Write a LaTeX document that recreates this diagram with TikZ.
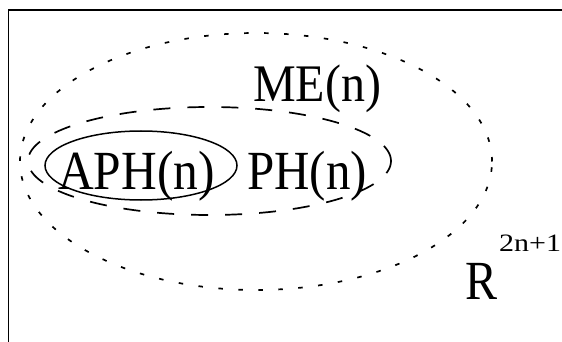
\documentclass[tikz,border=0pt]{standalone}
\usepackage{fontspec}
\setmainfont{Liberation Serif}
\usetikzlibrary{shapes.geometric}
\tikzset{
  big/.style={inner sep=0pt, anchor=base west, font=\fontsize{48}{48}\selectfont},
  supstyle/.style={inner sep=0pt, anchor=base west, font=\fontsize{25}{25}\selectfont},
  region/.style={shape=ellipse, inner sep=0pt, line width=1.7pt},
  dotreg/.style={region, dash pattern=on 4.5pt off 15.5pt},
  dashreg/.style={region, dash pattern=on 17pt off 17pt},
  solidreg/.style={region, line width=1.5pt}
}
\begin{document}
\begin{tikzpicture}[x=1pt,y=-1pt]
\useasboundingbox (0,0) rectangle (562,342);
\clip (0,0) rectangle (562,342);
\draw[line width=1.8pt] (8.5,10) rectangle (620,400);
\node[dotreg, draw, minimum width=472pt, minimum height=257pt] (me) at (256,161.5) {};
\node[dashreg, draw, minimum width=363pt, minimum height=108pt] (ph) at (209.5,161) {};
\node[solidreg, draw, minimum width=192pt, minimum height=69pt] (aph) at (141,165.5) {};
\node[big] (aphlabel) at (58,189) {\scalebox{1.03}[1.15]{APH(n)}};
\node[big] (phlabel) at (247,189) {\scalebox{1.02}[1.15]{PH(n)}};
\node[big] (melabel) at (253,102) {\scalebox{1}[1.1]{ME(n)}};
\node[big] (rlabel) at (465,299) {\scalebox{1}[1.15]{R}};
\node[supstyle] (rsup) at (499,251) {\scalebox{1.2}[1]{2n+1}};
\end{tikzpicture}
\end{document}
